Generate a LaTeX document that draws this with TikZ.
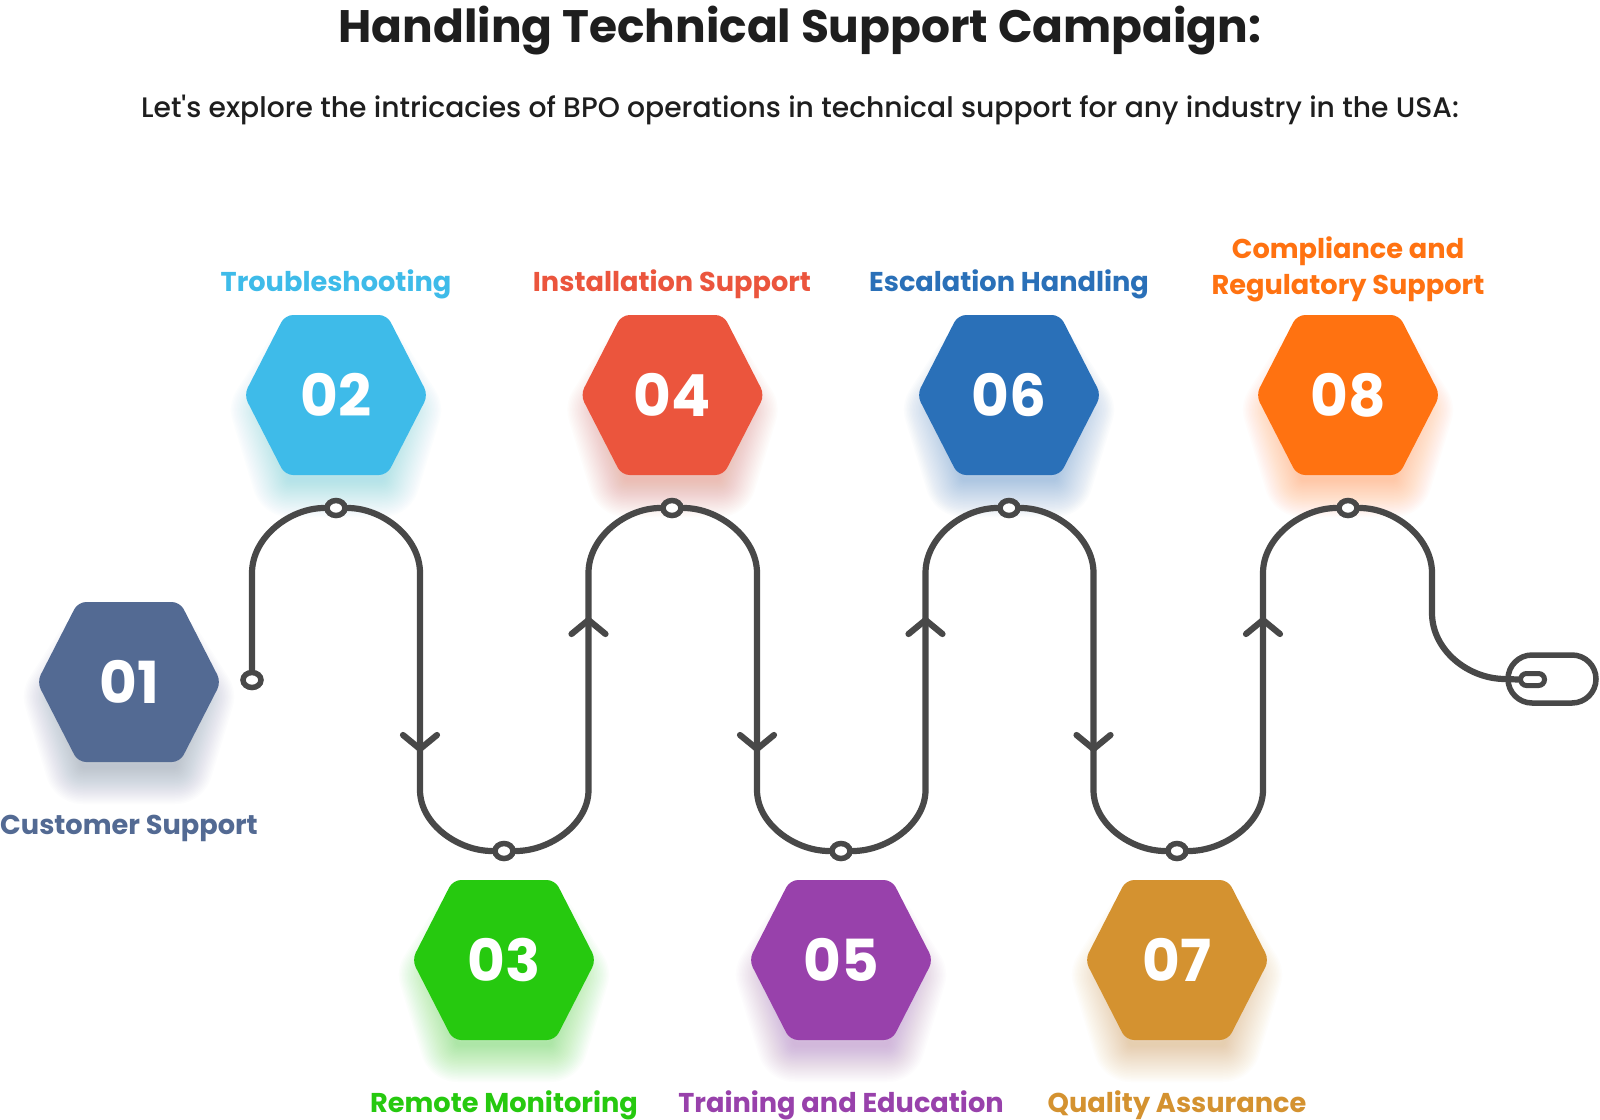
\documentclass[tikz,border=0pt]{standalone}
\usepackage{fontspec}
\setmainfont{Poppins}
\newfontfamily\popmed{Poppins Medium}
\usetikzlibrary{shapes.geometric,shapes.misc}
\definecolor{cA}{HTML}{536A93}
\definecolor{cB}{HTML}{3EBBE9}
\definecolor{cC}{HTML}{26C90F}
\definecolor{cD}{HTML}{EB553D}
\definecolor{cE}{HTML}{9841AB}
\definecolor{cF}{HTML}{2A70B8}
\definecolor{cG}{HTML}{D49230}
\definecolor{cH}{HTML}{FF7211}
\definecolor{wirec}{HTML}{484848}
\definecolor{inkc}{HTML}{1E1E1E}
\tikzset{
  wire/.style={draw=wirec,line width=6.2pt,line cap=round,line join=round},
  pinnode/.style={ellipse,draw=wirec,fill=white,line width=5.5pt,minimum width=18pt,minimum height=15pt,inner sep=0pt},
  numtext/.style={text=white,font=\fontsize{58}{58}\selectfont\bfseries,inner sep=0pt},
  lab/.style={anchor=base,inner sep=0pt,font=\fontsize{27.2}{27.2}\selectfont\bfseries},
  hexbody/.style={rounded corners=8pt}
}
\newcommand{\hexcell}[5]{%
  \foreach \w in {76,73,...,2}{%
    \draw[#4,opacity=.017,line width=\w pt,line join=round]
      (#2-67,#3+15)--(#2-38,#3-30)--(#2+38,#3-30)--(#2+67,#3+15)--(#2+46,#3+84)--(#2-46,#3+84)--cycle;
  }
  \fill[#4,hexbody] (#2-92,#3)--(#2-51,#3-80)--(#2+51,#3-80)--(#2+92,#3)--(#2+51,#3+80)--(#2-51,#3+80)--cycle;
  \node[numtext] (#1) at (#2,#3) {#5};
}
\begin{document}
\begin{tikzpicture}[x=1pt,y=-1pt]
\useasboundingbox[fill=white] (0,0) rectangle (1600,1119);

\hexcell{h1}{129}{682}{cA}{01}
\hexcell{h2}{336}{395}{cB}{02}
\hexcell{h3}{504}{960}{cC}{03}
\hexcell{h4}{672.5}{395}{cD}{04}
\hexcell{h5}{841}{960}{cE}{05}
\hexcell{h6}{1009}{395}{cF}{06}
\hexcell{h7}{1177}{960}{cG}{07}
\hexcell{h8}{1348}{395}{cH}{08}

\node[anchor=base,inner sep=0pt,text=inkc,font=\fontsize{45.5}{45.5}\selectfont\bfseries] (title) at (800,42) {Handling Technical Support Campaign:};
\node[anchor=base,inner sep=0pt,text=inkc,font=\fontsize{28.2}{28.2}\selectfont\popmed] (sub) at (800,117) {Let's explore the intricacies of BPO operations in technical support for any industry in the USA:};

\node[lab,text=cA] (l1) at (129,834) {Customer Support};
\node[lab,text=cB] (l2) at (336,291) {Troubleshooting};
\node[lab,text=cC] (l3) at (504,1112) {Remote Monitoring};
\node[lab,text=cD] (l4) at (672,291) {Installation Support};
\node[lab,text=cE] (l5) at (841,1112) {Training and Education};
\node[lab,text=cF] (l6) at (1009,291) {Escalation Handling};
\node[lab,text=cG] (l7) at (1177,1112) {Quality Assurance};
\node[lab,text=cH] (l8a) at (1348,258) {Compliance and};
\node[lab,text=cH] (l8b) at (1348,294) {Regulatory Support};

\node[pinnode] (p1) at (252,680) {};
\node[pinnode] (p2) at (336,508) {};
\node[pinnode] (p3) at (504,851) {};
\node[pinnode] (p4) at (672,508) {};
\node[pinnode] (p5) at (841,851) {};
\node[pinnode] (p6) at (1009,508) {};
\node[pinnode] (p7) at (1177,851) {};
\node[pinnode] (p8) at (1348,508) {};

\node[rounded rectangle,draw=wirec,line width=5.5pt,minimum width=88pt,minimum height=48pt,inner sep=0pt] (mouse) at (1552,679) {};
\node[rounded rectangle,draw=wirec,line width=5pt,minimum width=24pt,minimum height=12pt,inner sep=0pt,fill=white] (wheel) at (1532.5,679.5) {};

\draw[wire] (p1.north) -- (252,573) .. controls (252,537) and (290,508) .. (p2.west);
\draw[wire] (p2.east) .. controls (382,508) and (420,537) .. (420,573) -- (420,790) .. controls (420,824) and (458,851) .. (p3.west);
\draw[wire] (p3.east) .. controls (550,851) and (588.5,824) .. (588.5,790) -- (588.5,573) .. controls (588.5,537) and (626,508) .. (p4.west);
\draw[wire] (p4.east) .. controls (718,508) and (757,537) .. (757,573) -- (757,790) .. controls (757,824) and (795,851) .. (p5.west);
\draw[wire] (p5.east) .. controls (887,851) and (925.5,824) .. (925.5,790) -- (925.5,573) .. controls (925.5,537) and (963,508) .. (p6.west);
\draw[wire] (p6.east) .. controls (1055,508) and (1093.5,537) .. (1093.5,573) -- (1093.5,790) .. controls (1093.5,824) and (1131,851) .. (p7.west);
\draw[wire] (p7.east) .. controls (1223,851) and (1263,824) .. (1263,790) -- (1263,573) .. controls (1263,537) and (1302,508) .. (p8.west);
\draw[wire] (p8.east) .. controls (1394,508) and (1432,537) .. (1432,573) -- (1432,613) .. controls (1432,650) and (1468,679) .. (mouse.west) -- (wheel.west);

\coordinate (a1) at (420,749);
\coordinate (a2) at (588.5,620);
\coordinate (a3) at (757,749);
\coordinate (a4) at (925.5,620);
\coordinate (a5) at (1093.5,749);
\coordinate (a6) at (1263,620);
\foreach \a in {a1,a3,a5}{\draw[wire] (\a) ++(-17,-14) -- (\a) -- ++(17,-14);}
\foreach \a in {a2,a4,a6}{\draw[wire] (\a) ++(-17,14) -- (\a) -- ++(17,14);}
\end{tikzpicture}
\end{document}
